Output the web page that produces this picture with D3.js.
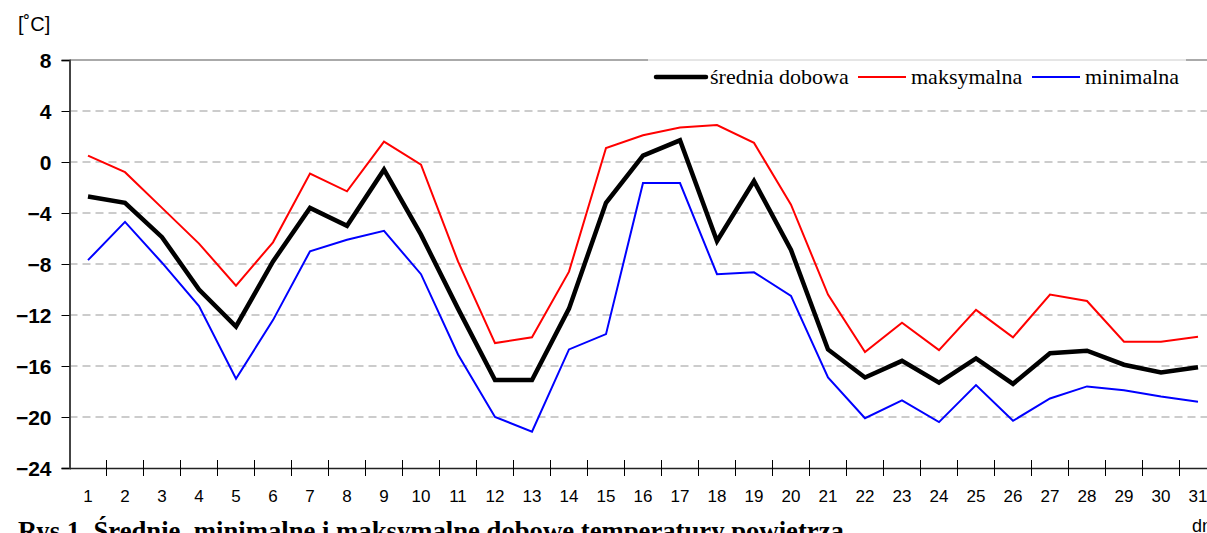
<!DOCTYPE HTML>
<html>
  <head>
    <meta charset="utf-8">
    <title>Temperatury dobowe</title>
    <style>
      body { margin: 0; background: #fff; }
      svg { display: block; }
    </style>
  </head>
  <body>
    <script src="https://cdn.jsdelivr.net/npm/d3@7"></script>
    <script>
      var days = d3.range(1, 32);

      var srednia = [-2.7, -3.2, -5.9, -10.0, -12.9, -7.8, -3.6, -5.0, -0.6, -5.7, -11.5,
        -17.1, -17.1, -11.5, -3.2, 0.5, 1.7, -6.2, -1.5, -6.9, -14.7,
        -16.9, -15.6, -17.3, -15.4, -17.4, -15.0, -14.8, -15.9, -16.5, -16.1];

      var maksymalna = [0.5, -0.8, -3.6, -6.4, -9.7, -6.3, -0.9, -2.3, 1.6, -0.2, -7.8,
        -14.2, -13.75, -8.6, 1.1, 2.1, 2.7, 2.9, 1.5, -3.35, -10.4,
        -14.9, -12.6, -14.75, -11.6, -13.75, -10.4, -10.9, -14.1, -14.1, -13.7];

      var minimalna = [-7.7, -4.7, -7.9, -11.3, -17.0, -12.4, -7.0, -6.1, -5.4, -8.8, -15.1,
        -20.0, -21.15, -14.7, -13.5, -1.65, -1.65, -8.8, -8.65, -10.5, -16.9,
        -20.1, -18.7, -20.4, -17.5, -20.3, -18.55, -17.6, -17.9, -18.4, -18.8];

      var yTicks = [8, 4, 0, -4, -8, -12, -16, -20, -24];

      var series = [
        { name: 'średnia dobowa', values: srednia, color: '#000', width: 4.5 },
        { name: 'maksymalna', values: maksymalna, color: '#ff0000', width: 2 },
        { name: 'minimalna', values: minimalna, color: '#0000ff', width: 2 }
      ];

      var width = 1207,
        height = 533,
        plotLeft = 69.5,
        plotTop = 60,
        plotBottom = 468,
        plotRight = 69.5 + 31 * 37;

      var svg = d3.select('body').append('svg')
          .attr('width', width)
          .attr('height', height);

      var x = d3.scaleBand()
          .domain(days)
          .range([plotLeft, plotRight]);

      var y = d3.scaleLinear()
          .domain([-24, 8])
          .range([plotBottom, plotTop]);

      // gridlines
      svg.append('g')
        .selectAll('line')
        .data(yTicks.filter(function(d) { return d > -24 && d < 8; }))
        .enter().append('line')
          .attr('x1', plotLeft)
          .attr('x2', plotRight)
          .attr('y1', function(d) { return y(d); })
          .attr('y2', function(d) { return y(d); })
          .attr('stroke', '#999')
          .attr('stroke-width', 1)
          .attr('stroke-dasharray', '8,5');

      // top border of plot
      svg.append('line')
        .attr('x1', plotLeft).attr('x2', plotRight)
        .attr('y1', y(8)).attr('y2', y(8))
        .attr('stroke', '#aaa')
        .attr('stroke-width', 2);

      // y axis
      var yAxis = svg.append('g')
          .attr('transform', 'translate(' + plotLeft + ',0)')
          .call(d3.axisLeft(y).tickValues(yTicks).tickSize(8).tickPadding(10).tickFormat(d3.format('d')));
      yAxis.select('.domain').attr('stroke', '#444').attr('stroke-width', 2);
      yAxis.selectAll('.tick line').attr('stroke', '#000');
      yAxis.selectAll('text')
          .attr('font-family', 'Liberation Sans, Arial, sans-serif')
          .attr('font-size', 21)
          .attr('font-weight', 'bold')
          .attr('fill', '#000')
          .attr('dy', '0.36em');

      // x axis
      var xAxis = svg.append('g')
          .attr('transform', 'translate(0,' + plotBottom + ')')
          .call(d3.axisBottom(x).tickSize(0).tickPadding(22));
      xAxis.select('.domain').attr('stroke', '#222').attr('stroke-width', 1.5);
      xAxis.selectAll('text')
          .attr('font-family', 'Liberation Sans, Arial, sans-serif')
          .attr('font-size', 17)
          .attr('fill', '#000');
      xAxis.append('g')
        .selectAll('line')
        .data(days)
        .enter().append('line')
          .attr('x1', function(d) { return x(d) + x.bandwidth(); })
          .attr('x2', function(d) { return x(d) + x.bandwidth(); })
          .attr('y1', -8)
          .attr('y2', 8)
          .attr('stroke', '#000');

      // lines
      var line = d3.line()
          .x(function(d, i) { return x(days[i]) + x.bandwidth() / 2; })
          .y(function(d) { return y(d); });

      svg.append('g')
        .selectAll('path')
        .data(series.slice().reverse())
        .enter().append('path')
          .attr('d', function(d) { return line(d.values); })
          .attr('fill', 'none')
          .attr('stroke', function(d) { return d.color; })
          .attr('stroke-width', function(d) { return d.width; })
          .attr('stroke-linejoin', 'miter');

      // legend
      var legend = svg.append('g');
      legend.append('rect')
        .attr('x', 648).attr('y', y(8) - 1)
        .attr('width', 538).attr('height', 34)
        .attr('fill', '#fff');
      legend.append('line')
        .attr('x1', 648).attr('x2', 1186)
        .attr('y1', y(8)).attr('y2', y(8))
        .attr('stroke', '#ccc').attr('stroke-width', 1);

      var legendX = [656, 858, 1032];
      var item = legend.selectAll('g.item')
          .data(series)
          .enter().append('g')
          .attr('class', 'item')
          .attr('transform', function(d, i) { return 'translate(' + legendX[i] + ',' + 77 + ')'; });
      item.append('line')
        .attr('x1', 0).attr('x2', function(d, i) { return i === 0 ? 50 : 48; })
        .attr('stroke', function(d) { return d.color; })
        .attr('stroke-width', function(d) { return d.width; })
        .attr('stroke-linecap', function(d, i) { return i === 0 ? 'round' : 'butt'; });
      item.append('text')
        .attr('x', function(d, i) { return i === 0 ? 54 : 53; })
        .attr('dy', '0.33em')
        .attr('font-family', 'Liberation Serif, Times New Roman, serif')
        .attr('font-size', 22)
        .attr('fill', '#000')
        .text(function(d) { return d.name; });

      // unit and axis titles
      svg.append('text')
        .attr('x', 18).attr('y', 31)
        .attr('font-family', 'Liberation Sans, Arial, sans-serif')
        .attr('font-size', 20)
        .text('[˚C]');

      svg.append('text')
        .attr('x', 1192).attr('y', 532)
        .attr('font-family', 'Liberation Sans, Arial, sans-serif')
        .attr('font-size', 18)
        .text('dni');

      svg.append('text')
        .attr('x', 18).attr('y', 540)
        .attr('font-family', 'Liberation Serif, Times New Roman, serif')
        .attr('font-size', 26.7)
        .attr('font-weight', 'bold')
        .text('Rys 1. Średnie, minimalne i maksymalne dobowe temperatury powietrza');
    </script>
  </body>
</html>
